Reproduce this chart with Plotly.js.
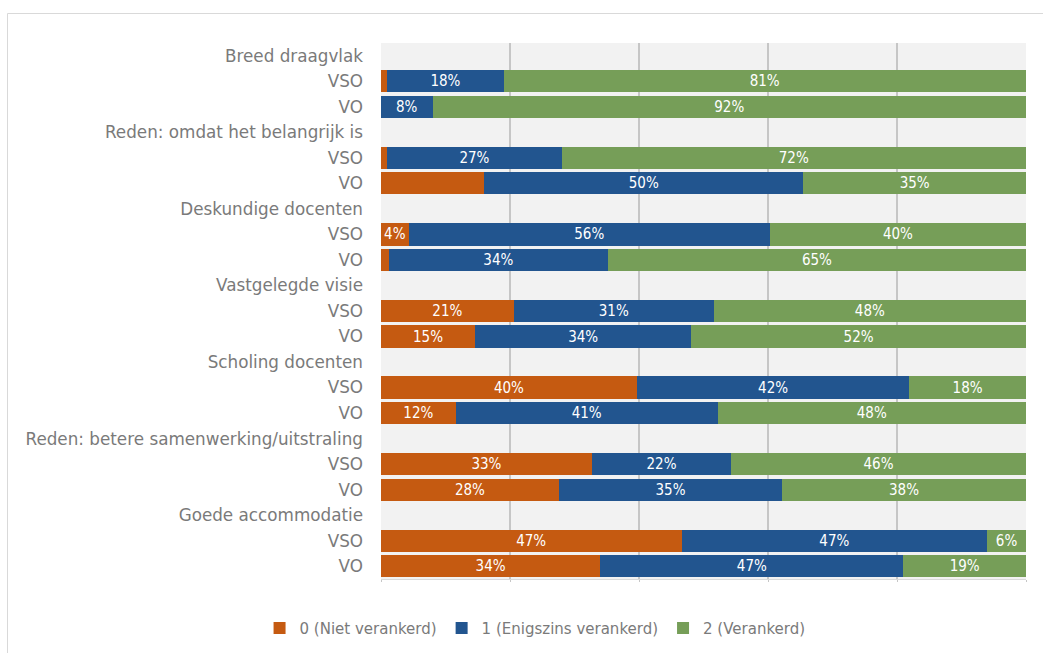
<!DOCTYPE html>
<html>
<head>
<meta charset="utf-8">
<script src="https://cdn.plot.ly/plotly-3.0.1.min.js"></script>
<style>html,body{margin:0;padding:0;background:#fff;}#chart{width:1043px;height:653px;}</style>
</head>
<body>
<div id="chart"></div>
<script>
// Data (percent), order per group: VSO, VO
var groups = ["Breed draagvlak", "Reden: omdat het belangrijk is", "Deskundige docenten", "Vastgelegde visie", "Scholing docenten", "Reden: betere samenwerking/uitstraling", "Goede accommodatie"];
var schoolTypes = ["VSO", "VO"];
var seriesNames = ["0 (Niet verankerd)", "1 (Enigszins verankerd)", "2 (Verankerd)"];
var nietVerankerd      = [1, 0, 1, 16, 4.3, 1.2, 20.6, 14.6, 39.7, 11.6, 32.7, 27.6, 46.6, 34];
var enigszinsVerankerd = [18, 8, 27, 49.5, 56, 34, 31, 33.5, 42.2, 40.6, 21.6, 34.6, 47.4, 47];
var verankerd          = [81, 92, 72, 34.5, 39.7, 64.8, 48.4, 51.9, 18.1, 47.8, 45.7, 37.8, 6.0, 19];
// which points carry no data label in the original
var unlabeledNiet = [0, 1, 2, 3, 5];

var colors = ["#C55A11", "#22558F", "#769E58"];

// build row positions: each group has a header row followed by VSO and VO rows
var tickvals = [], ticktext = [], barY = [];
groups.forEach(function (g, gi) {
  tickvals.push(gi * 3); ticktext.push(g);
  schoolTypes.forEach(function (s, si) {
    tickvals.push(gi * 3 + 1 + si); ticktext.push(s);
    barY.push(gi * 3 + 1 + si);
  });
});

function labels(vals, hidden) {
  return vals.map(function (v, i) {
    if (hidden && hidden.indexOf(i) >= 0) return "";
    return Math.round(v) + "%";
  });
}

var allVals = [nietVerankerd, enigszinsVerankerd, verankerd];
var hiddenSets = [unlabeledNiet, [], []];
var traces = allVals.map(function (vals, k) {
  return {
    type: "bar",
    orientation: "h",
    name: seriesNames[k],
    x: vals,
    y: barY,
    width: 0.87,
    marker: { color: colors[k], line: { width: 0 } },
    text: labels(vals, hiddenSets[k]),
    textposition: "inside",
    insidetextanchor: "middle",
    textangle: 0,
    constraintext: "none",
    insidetextfont: { color: "#ffffff", family: "DejaVu Sans Condensed, sans-serif", size: 15 },
    hoverinfo: "name+x"
  };
});

var layout = {
  width: 1043, height: 653,
  margin: { l: 381, r: 17, t: 43, b: 74, pad: 0, autoexpand: false },
  paper_bgcolor: "#ffffff",
  plot_bgcolor: "#F2F2F2",
  barmode: "stack",
  font: { family: "DejaVu Sans, sans-serif", color: "#7A7A7A" },
  xaxis: {
    range: [0, 100], dtick: 20, tick0: 0,
    showticklabels: false,
    showgrid: true, gridcolor: "#C6C6C6", gridwidth: 1.5,
    zeroline: false,
    showline: true, linecolor: "#D9D9D9", linewidth: 1,
    ticks: "outside", ticklen: 2, tickcolor: "#C6C6C6",
    fixedrange: true
  },
  yaxis: {
    range: [20.5, -0.5],
    tickmode: "array", tickvals: tickvals, ticktext: ticktext,
    tickfont: { size: 16.8, color: "#7A7A7A", family: "DejaVu Sans, sans-serif" },
    showgrid: false, zeroline: false,
    ticks: "", ticklabelstandoff: 17,
    fixedrange: true
  },
  showlegend: true,
  legend: {
    orientation: "h",
    xref: "container", yref: "container",
    x: 0.513, xanchor: "center",
    y: 0.038, yanchor: "middle",
    font: { size: 15, color: "#7A7A7A", family: "DejaVu Sans, sans-serif" },
    traceorder: "normal",
    itemwidth: 30,
    itemclick: false
  },
  shapes: [{
    type: "rect", xref: "paper", yref: "paper", layer: "below",
    x0: (7.5 - 381) / 645, x1: (1060 - 381) / 645,
    y0: (579 - 670) / 536, y1: (579 - 13.5) / 536,
    line: { color: "#D9D9D9", width: 1 }, fillcolor: "rgba(0,0,0,0)"
  }]
};

Plotly.newPlot("chart", traces, layout, { displayModeBar: false, staticPlot: true });
</script>
</body>
</html>
